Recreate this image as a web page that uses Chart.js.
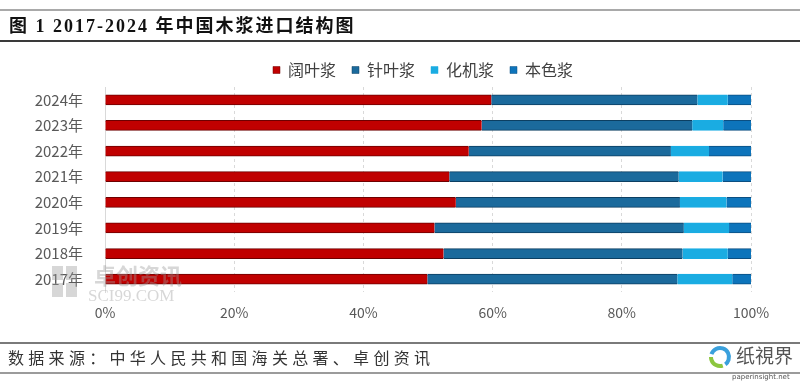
<!DOCTYPE html>
<html>
<head>
<meta charset="utf-8">
<script src="https://cdn.jsdelivr.net/npm/chart.js@4"></script>
<style>
  html, body { margin: 0; padding: 0; background: #fff; }
  #wrap { position: relative; width: 800px; height: 384px; }
</style>
</head>
<body>
<div id="wrap"><canvas id="chart"></canvas></div>
<script>
// Categories, top to bottom as in the picture
const years = ['2024年', '2023年', '2022年', '2021年', '2020年', '2019年', '2018年', '2017年'];

// Share of imports, %
const hardwood = [59.8, 58.3, 56.3, 53.3, 54.3, 51.0, 52.4, 49.9];   // 阔叶浆
const softwood = [31.9, 32.6, 31.3, 35.5, 34.7, 38.6, 37.0, 38.7];   // 针叶浆
const mechanical = [4.7, 4.8, 5.9, 6.8, 7.2, 7.0, 7.0, 8.5];        // 化机浆
const unbleached = [3.6, 4.3, 6.5, 4.4, 3.8, 3.4, 3.6, 2.9];        // 本色浆

const seriesNames = ['阔叶浆', '针叶浆', '化机浆', '本色浆'];
const xTicks = [0, 20, 40, 60, 80, 100];

const title = '图 1 2017-2024 年中国木浆进口结构图';
const source = '数据来源：中华人民共和国海关总署、卓创资讯';

const cjk = '"Noto Sans CJK SC", "Noto Sans", sans-serif';

// title, rules, source line and watermarks around the chart
const decorations = {
  id: 'decorations',
  afterLayout(chart) {
    // legend sits centred over the plot, not over the whole canvas
    chart.legend.left += 95;
  },
  beforeDraw(chart) {
    const ctx = chart.ctx;
    ctx.save();
    ctx.fillStyle = '#fff';
    ctx.fillRect(0, 0, chart.width, chart.height);

    ctx.strokeStyle = '#8c8c8c';
    ctx.lineWidth = 1.5;
    ctx.beginPath(); ctx.moveTo(0, 10); ctx.lineTo(800, 10); ctx.stroke();
    ctx.strokeStyle = '#3a3a3a';
    ctx.lineWidth = 2;
    ctx.beginPath(); ctx.moveTo(0, 41); ctx.lineTo(800, 41); ctx.stroke();
    ctx.strokeStyle = '#7a7a7a';
    ctx.beginPath(); ctx.moveTo(0, 343); ctx.lineTo(800, 343); ctx.stroke();
    ctx.lineWidth = 1.5;
    ctx.beginPath(); ctx.moveTo(0, 373); ctx.lineTo(800, 373); ctx.stroke();

    ctx.fillStyle = '#111';
    ctx.font = 'bold 18px "Liberation Serif", "Noto Sans CJK SC", serif';
    ctx.textBaseline = 'middle';
    ctx.textAlign = 'left';
    ctx.letterSpacing = '2px';
    ctx.fillText(title, 9, 27);

    ctx.fillStyle = '#333';
    ctx.font = '16px ' + cjk;
    ctx.letterSpacing = '4.3px';
    ctx.fillText(source, 8, 358);
    ctx.letterSpacing = '0px';

    // 纸视界 logo
    ctx.fillStyle = '#555';
    ctx.font = '19px ' + cjk;
    ctx.fillText('纸視界', 736, 356);
    ctx.font = '7px "DejaVu Sans", sans-serif';
    ctx.fillText('paperinsight.net', 732, 377);
    ctx.lineWidth = 4;
    ctx.strokeStyle = '#3aa0dc';
    ctx.beginPath(); ctx.arc(720, 357, 9, Math.PI * 1.1, Math.PI * 2.3); ctx.stroke();
    ctx.strokeStyle = '#8cc63f';
    ctx.beginPath(); ctx.arc(720, 357, 9, Math.PI * 0.4, Math.PI * 1.0); ctx.stroke();
    ctx.restore();
  },
  afterDatasetsDraw(chart) {
    const ctx = chart.ctx;
    ctx.save();
    ctx.globalAlpha = 0.4;
    ctx.fillStyle = '#9a9a9a';
    ctx.fillRect(52, 266, 11, 14);
    ctx.fillRect(66, 266, 11, 14);
    ctx.fillRect(52, 283, 11, 14);
    ctx.fillRect(66, 283, 11, 14);
    ctx.font = 'bold 22px ' + cjk;
    ctx.textBaseline = 'middle';
    ctx.fillText('卓创资讯', 94, 276);
    ctx.font = '17px "Liberation Serif", serif';
    ctx.fillText('SCI99.COM', 88, 297);
    ctx.restore();
  }
};

const borderOnly = { top: 1, bottom: 1, left: 0, right: 0 };

new Chart(document.getElementById('chart'), {
  type: 'bar',
  data: {
    labels: years,
    datasets: [
      { label: seriesNames[0], data: hardwood, backgroundColor: '#c00000', borderColor: '#6e0000' },
      { label: seriesNames[1], data: softwood, backgroundColor: '#1b6a9c', borderColor: '#0c3f62' },
      { label: seriesNames[2], data: mechanical, backgroundColor: '#1aace2', borderColor: '#1aace2' },
      { label: seriesNames[3], data: unbleached, backgroundColor: '#0d74bb', borderColor: '#0b4f82' }
    ].map(d => Object.assign(d, { borderWidth: borderOnly, borderSkipped: false, barThickness: 10 }))
  },
  options: {
    indexAxis: 'y',
    responsive: true,
    maintainAspectRatio: false,
    animation: false,
    layout: { padding: { top: 46, right: 49, bottom: 62, left: 0 } },
    plugins: {
      legend: {
        position: 'top',
        maxHeight: 41,
        labels: {
          boxWidth: 7,
          boxHeight: 7,
          padding: 16,
          color: '#404040',
          font: { family: cjk, size: 16, lineHeight: 1 }
        }
      },
      tooltip: { enabled: false }
    },
    scales: {
      x: {
        stacked: true,
        min: 0,
        max: 100,
        afterFit: (s) => { s.height = 30; },
        afterBuildTicks: (s) => { s.ticks = xTicks.map(v => ({ value: v })); },
        grid: { color: '#d9d9d9', drawTicks: false },
        border: { display: false, dash: [3, 3] },
        ticks: {
          padding: 12,
          color: '#595959',
          font: { family: cjk, size: 14 },
          callback: (v) => v + '%'
        }
      },
      y: {
        stacked: true,
        afterFit: (s) => { s.width = 105; },
        grid: { display: false },
        border: { display: true, color: '#d9d9d9' },
        ticks: {
          padding: 14,
          color: '#595959',
          font: { family: cjk, size: 15 }
        }
      }
    }
  },
  plugins: [decorations]
});
</script>
</body>
</html>
